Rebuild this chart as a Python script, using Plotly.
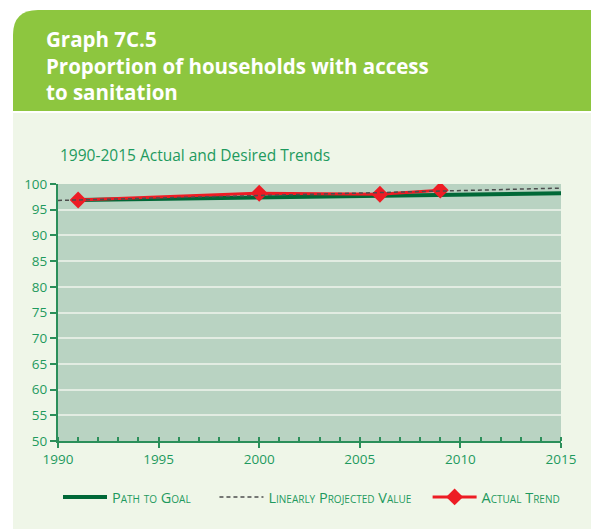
import plotly.graph_objects as go

# data
goal_years = [1991, 2015]
goal_vals = [96.9, 98.2]

proj_years = [1990, 2015]
proj_vals = [96.8, 99.2]

actual_years = [1991, 2000, 2006, 2009]
actual_vals = [96.9, 98.2, 98.0, 98.8]

# page has an 8px body margin, so the figure is drawn 8px smaller and offset
OFF = 8
W, H = 599 - OFF, 529 - OFF
L, R, T, B = 58 - OFF, 38, 184 - OFF, 88
PW, PH = W - L - R, H - T - B

def px(x):
    return (x - OFF - L) / PW

def py(y):
    return (H - B - (y - OFF)) / PH

FONT = "Open Sans"
TXT = "#1e9a5e"
AXIS = "#2b8f5a"
NB = "\u00a0"

fig = go.Figure()

fig.add_trace(go.Scatter(
    x=goal_years, y=goal_vals, mode="lines", name="Path to Goal" + NB * 5,
    line=dict(color="#006837", width=4), legendrank=1
))
fig.add_trace(go.Scatter(
    x=actual_years, y=actual_vals, mode="lines+markers", name="Actual Trend",
    line=dict(color="#ed1c24", width=3),
    marker=dict(symbol="diamond", size=13, color="#ed1c24"),
    legendrank=3
))
fig.add_trace(go.Scatter(
    x=proj_years, y=proj_vals, mode="lines", name="Linearly Projected Value" + NB * 3,
    line=dict(color="#4d4d4d", width=1.5, dash="4px,3px"), legendrank=2
))

# header block with rounded top-left corner
r = 25
x0, y0, x1, y1 = 13, 10, 601, 111
header = (f"M {px(x0)},{py(y1)} L {px(x0)},{py(y0 + r)} "
          f"Q {px(x0)},{py(y0)} {px(x0 + r)},{py(y0)} "
          f"L {px(x1)},{py(y0)} L {px(x1)},{py(y1)} Z")

shapes = [
    dict(type="rect", xref="paper", yref="paper", x0=px(0), x1=px(601),
         y0=py(113), y1=py(0), fillcolor="white", line_width=0),
    dict(type="rect", xref="paper", yref="paper", x0=px(0), x1=px(13),
         y0=py(531), y1=py(0), fillcolor="white", line_width=0),
    dict(type="path", path=header, xref="paper", yref="paper",
         fillcolor="#8dc63f", line_width=0),
]

annotations = [
    dict(text="<b>Graph 7C.5<br>Proportion of households with access<br>to sanitation</b>",
         xref="paper", yref="paper", x=px(44), y=py(23), xanchor="left", yanchor="top",
         align="left", showarrow=False,
         font=dict(family=FONT, size=20.5, color="white")),
    dict(text="1990-2015 Actual and Desired Trends",
         xref="paper", yref="paper", x=px(58), y=py(155), xanchor="left", yanchor="middle",
         showarrow=False, font=dict(family=FONT, size=15.5, color=TXT)),
]

fig.update_layout(
    width=W, height=H,
    margin=dict(l=L, r=R, t=T, b=B),
    paper_bgcolor="#eff6e8",
    plot_bgcolor="#b9d3c2",
    font=dict(family=FONT, color=TXT, size=13),
    shapes=shapes,
    annotations=annotations,
    showlegend=True,
    legend=dict(
        orientation="h", x=px(58), y=py(497), xanchor="left", yanchor="middle",
        bgcolor="rgba(0,0,0,0)", traceorder="normal", itemwidth=44,
        font=dict(family=FONT, size=14.5, color=TXT, variant="small-caps"),
    ),
)

fig.update_xaxes(
    range=[1990, 2015], dtick=5, tick0=1990,
    showgrid=False, zeroline=False,
    showline=True, linecolor=AXIS, linewidth=2,
    ticks="outside", ticklen=5, tickcolor=AXIS, tickwidth=2,
    minor=dict(dtick=1, ticks="inside", ticklen=4, tickcolor=AXIS, tickwidth=1.5),
    tickfont=dict(size=13.5, color=TXT),
)
fig.update_yaxes(
    range=[50, 100], dtick=5,
    showgrid=True, gridcolor="#e2ece2", gridwidth=2, zeroline=False,
    showline=True, linecolor=AXIS, linewidth=2,
    ticks="outside", ticklen=6, tickcolor=AXIS, tickwidth=2,
    tickfont=dict(size=13.5, color=TXT),
)

fig.write_html("out.html")
